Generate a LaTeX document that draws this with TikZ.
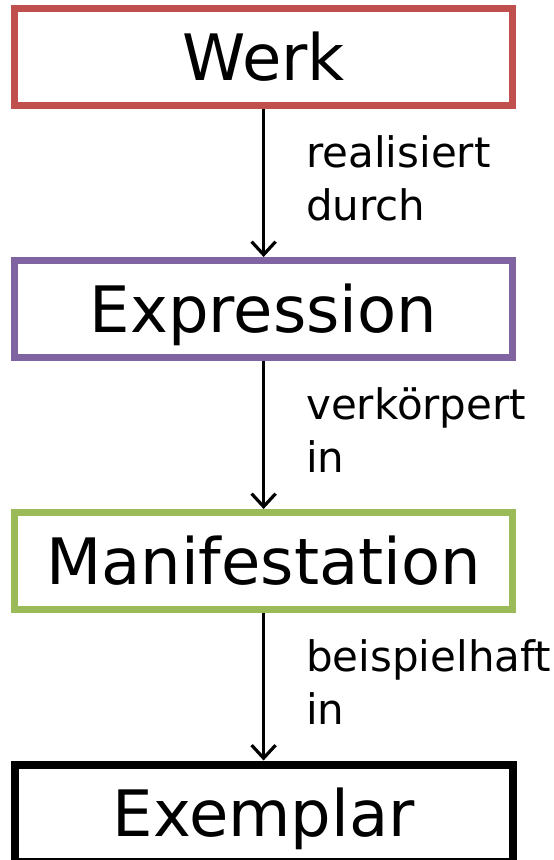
\documentclass[tikz,border=0pt]{standalone}
\usepackage{fontspec}
\setmainfont{DejaVu Sans}
\usetikzlibrary{arrows.meta}
\definecolor{werkred}{HTML}{C0504D}
\definecolor{exprpurple}{HTML}{8064A2}
\definecolor{maniggreen}{HTML}{9BBB59}
\begin{document}
\begin{tikzpicture}[x=1pt, y=-1pt,
    entity/.style={draw, line width=7pt, minimum width=498pt, minimum height=97pt,
      inner sep=0pt, text height=47pt, text depth=0pt, font=\fontsize{64}{70}\selectfont},
    rel/.style={line width=3.2pt, -{Straight Barb[length=13pt, width=24pt]}},
    lbl/.style={align=left, inner sep=0pt, right=41pt, yshift=4.5pt,
      font=\fontsize{42}{53}\selectfont}]
  \useasboundingbox (0,0) rectangle (554,860);

  \node[entity, werkred] (werk) at (263.6,57) {\color{black}Werk};
  \node[entity, exprpurple] (expression) at (263.6,309) {\color{black}Expression};
  \node[entity, maniggreen] (manifestation) at (263.6,561) {\color{black}Manifestation};
  \node[entity, black, line width=8pt] (exemplar) at (263.6,813) {Exemplar};

  \draw[rel] (werk) -- (expression) node[midway, lbl] {realisiert\\durch};
  \draw[rel] (expression) -- (manifestation) node[midway, lbl] {verkörpert\\in};
  \draw[rel] (manifestation) -- (exemplar) node[midway, lbl] {beispielhaft\\in};
\end{tikzpicture}
\end{document}
